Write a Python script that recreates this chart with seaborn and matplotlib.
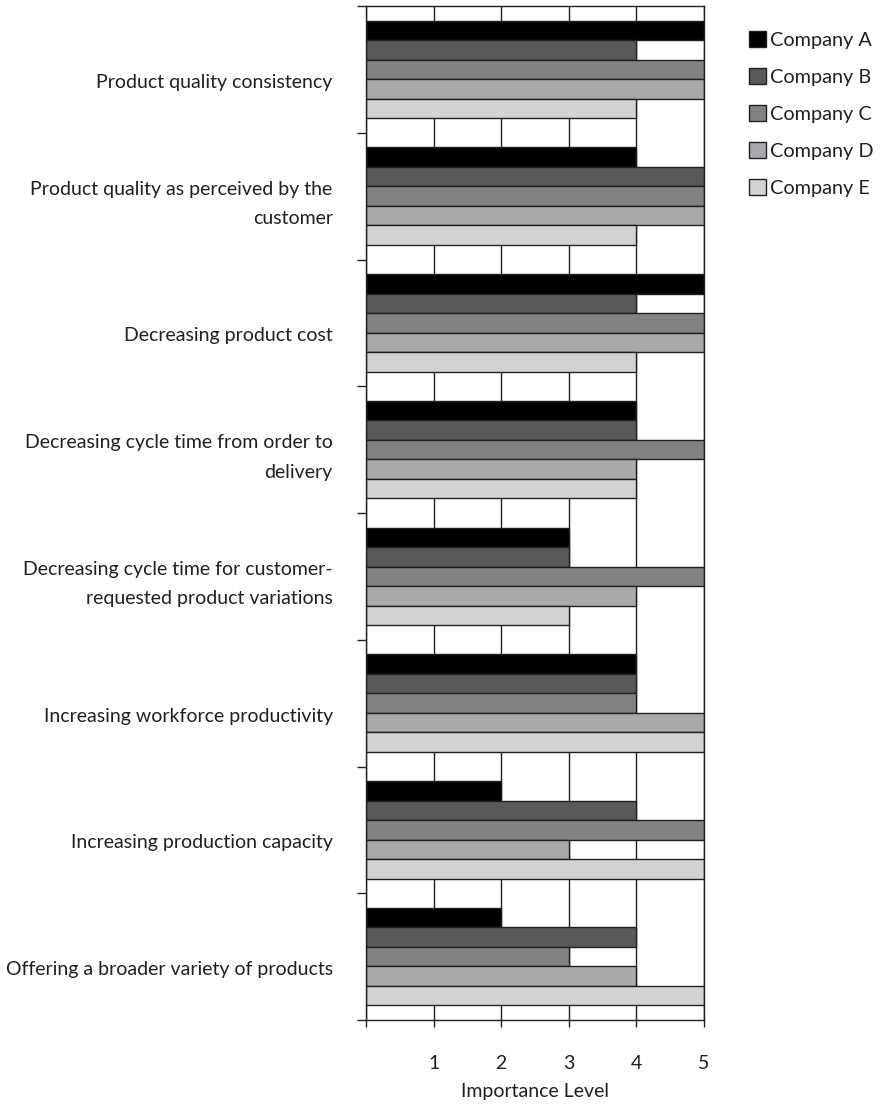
import matplotlib
matplotlib.use("Agg")
import matplotlib.pyplot as plt
from matplotlib.patches import Patch
from matplotlib.ticker import FixedLocator
import numpy as np
import pandas as pd
import seaborn as sns

# Survey: importance of manufacturing goals, rated 1-5 by each company
factors = [
    "Product quality consistency",
    "Product quality as perceived by the\ncustomer",
    "Decreasing product cost",
    "Decreasing cycle time from order to\ndelivery",
    "Decreasing cycle time for customer-\nrequested product variations",
    "Increasing workforce productivity",
    "Increasing production capacity",
    "Offering a broader variety of products",
]
companies = ["Company A", "Company B", "Company C", "Company D", "Company E"]

company_a = [5, 4, 5, 4, 3, 4, 2, 2]
company_b = [4, 5, 4, 4, 3, 4, 4, 4]
company_c = [5, 5, 5, 5, 5, 4, 5, 3]
company_d = [5, 5, 5, 4, 4, 5, 3, 4]
company_e = [4, 4, 4, 4, 3, 5, 5, 5]

x_ticks = [0, 1, 2, 3, 4, 5]
x_tick_labels = ["", "1", "2", "3", "4", "5"]

grays = ["#000000", "#58595b", "#808285", "#a7a9ac", "#d1d3d4"]
ink = "#231f20"

rows = []
for name, vals in zip(companies, [company_a, company_b, company_c, company_d, company_e]):
    for f, v in zip(factors, vals):
        rows.append({"factor": f, "company": name, "value": v})
df = pd.DataFrame(rows)

sns.set_theme(style="white")
plt.rcParams["font.family"] = ["Lato", "DejaVu Sans"]
plt.rcParams["text.color"] = ink

fig = plt.figure(figsize=(8.82, 11.05), dpi=100)
ax = fig.add_axes([366 / 882, 1 - 1020 / 1105, 338 / 882, 1014 / 1105])

sns.barplot(
    data=df, y="factor", x="value", hue="company", order=factors,
    hue_order=companies, palette=grays, orient="h", width=0.77,
    edgecolor=ink, linewidth=1.0, errorbar=None, legend=False, ax=ax,
)

ax.set_xlim(0, 5)
ax.set_ylim(len(factors) - 0.5, -0.5)
ax.set_axisbelow(True)
ax.xaxis.grid(True, color=ink, linewidth=1.0)
ax.yaxis.grid(False)

for s in ax.spines.values():
    s.set_visible(True)
    s.set_color(ink)
    s.set_linewidth(1.0)

# x axis
ax.set_xticks(x_ticks)
ax.set_xticklabels(x_tick_labels)
ax.tick_params(axis="x", which="major", direction="out", length=5, width=1,
               color=ink, pad=20, labelsize=14, labelcolor=ink, bottom=True)
ax.set_xlabel("Importance Level", fontsize=14, color=ink, labelpad=8)

# y axis: tick marks on group boundaries, labels beside each group
# (single-line labels sit a little below the group centre)
label_pos = [i + (0.0 if "\n" in f else 0.09) for i, f in enumerate(factors)]
ax.yaxis.set_major_locator(FixedLocator(np.arange(-0.5, len(factors), 1.0)))
ax.yaxis.set_major_formatter(plt.NullFormatter())
ax.yaxis.set_minor_locator(FixedLocator(label_pos))
ax.set_yticklabels(factors, minor=True)
ax.tick_params(axis="y", which="major", direction="out", length=6.5, width=1,
               color=ink, left=True)
ax.tick_params(axis="y", which="minor", length=0, pad=24, labelsize=14,
               labelcolor=ink, left=True)
for lab in ax.get_yticklabels(minor=True):
    lab.set_linespacing(1.9)
ax.set_ylabel("")

handles = [Patch(facecolor=c, edgecolor=ink, linewidth=1.0, label=n)
           for c, n in zip(grays, companies)]
fig.legend(handles=handles, loc="upper left", bbox_to_anchor=(749 / 882, 1 - 31 / 1105),
           frameon=False, fontsize=14.3, handlelength=0.85, handleheight=0.85,
           handletextpad=0.2, labelspacing=0.97, borderaxespad=0, borderpad=0)

fig.savefig("out.png", dpi=100)
